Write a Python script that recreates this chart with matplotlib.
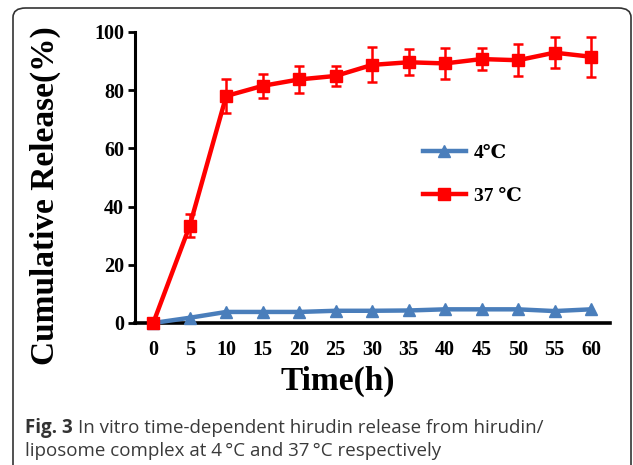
import matplotlib
matplotlib.use("Agg")
import matplotlib.pyplot as plt
from matplotlib.patches import FancyBboxPatch

# ---- data ----
time_h = [0, 5, 10, 15, 20, 25, 30, 35, 40, 45, 50, 55, 60]
release_4c = [0, 1.8, 3.8, 3.8, 3.8, 4.2, 4.2, 4.3, 4.7, 4.7, 4.7, 4.1, 4.7]
release_37c = [0, 33.4, 78.0, 81.5, 83.7, 84.9, 88.7, 89.6, 89.2, 90.7, 90.3, 92.9, 91.5]
err_37c = [0, 4.0, 5.8, 4.2, 4.5, 3.4, 6.0, 4.4, 5.3, 3.7, 5.5, 5.3, 6.9]
y_ticks = [0, 20, 40, 60, 80, 100]
label_4c = "4\u2103"
label_37c = "37 \u2103"

W, H = 633, 465
fig = plt.figure(figsize=(W / 100, H / 100), dpi=100)
fig.patch.set_facecolor("white")

serif = ["Liberation Serif", "DejaVu Serif"]

# axes placement in pixels
left, right, bottom, top = 135, 610, 323, 32
ax = fig.add_axes([left / W, 1 - bottom / H, (right - left) / W, (bottom - top) / H])
ax.set_facecolor("none")

blue = "#4A7EBB"
red = "#FF0000"

ax.plot(time_h, release_4c, color=blue, lw=3.2, marker="^", ms=9,
        mfc=blue, mec=blue, label=label_4c, zorder=3, clip_on=False)
ax.errorbar(time_h, release_37c, yerr=err_37c, fmt="none", ecolor=red,
            elinewidth=1.8, capsize=3.5, capthick=1.8, zorder=4, clip_on=False)
ax.plot(time_h, release_37c, color=red, lw=3.2, marker="s", ms=9,
        mfc=red, mec=red, label=label_37c, zorder=4, clip_on=False)

ax.set_xlim(-2.5, 62.6)
ax.set_ylim(0, 100)
ax.set_xticks(time_h)
ax.set_xticklabels([str(t) for t in time_h])
ax.set_yticks(y_ticks)

for s in ["top", "right"]:
    ax.spines[s].set_visible(False)
ax.spines["left"].set_linewidth(2.2)
ax.spines["bottom"].set_linewidth(2.6)
ax.spines["left"].set_zorder(5)
ax.spines["bottom"].set_zorder(2)

ax.tick_params(axis="x", length=0, pad=12)
ax.tick_params(axis="y", direction="out", length=5, width=2, pad=3)
for lab in ax.get_xticklabels() + ax.get_yticklabels():
    lab.set_fontfamily(serif)
    lab.set_fontweight("bold")
    lab.set_fontsize(14.5)

# axis titles
fig.text(338 / W, 1 - 381 / H, "Time(h)", fontsize=24, fontweight="bold",
         family=serif, ha="center", va="center")
fig.text(45 / W, 1 - 196 / H, "Cumulative Release(%)", fontsize=24,
         fontweight="bold", family=serif, ha="center", va="center", rotation=90)

# legend
leg = ax.legend(loc="upper left", bbox_to_anchor=(423 / W, 1 - 144 / H),
                bbox_transform=fig.transFigure, frameon=False, borderpad=0,
                borderaxespad=0, handlelength=2.2, handletextpad=0.4,
                labelspacing=1.3, prop={"family": serif, "size": 14, "weight": "bold"})

# caption
cap_font = ["Open Sans", "DejaVu Sans"]
cap_size = 13.5
y1 = 1 - 433 / H
y2 = 1 - 456 / H
t_bold = fig.text(25 / W, y1, "Fig. 3", fontsize=cap_size, fontweight="bold",
                  family=cap_font, va="baseline", ha="left", color="#333333")
fig.canvas.draw()
bb = t_bold.get_window_extent()
fig.text((bb.x1 + 5) / W, y1,
         "In vitro time-dependent hirudin release from hirudin/",
         fontsize=cap_size, family=cap_font, va="baseline", ha="left", color="#3a3a3a")
fig.text(25 / W, y2, "liposome complex at 4\u2009\u00b0C and 37\u2009\u00b0C respectively",
         fontsize=cap_size, family=cap_font, va="baseline", ha="left", color="#3a3a3a")

# rounded frame around the figure panel
frame = FancyBboxPatch((13 / W, -0.2), (631 - 13) / W, 0.2 + 1 - 8 / H,
                       boxstyle="round,pad=0,rounding_size=0.02",
                       transform=fig.transFigure, fill=False,
                       edgecolor="#333333", lw=1.2, clip_on=False)
fig.patches.append(frame)

fig.savefig("out.png", dpi=100)
